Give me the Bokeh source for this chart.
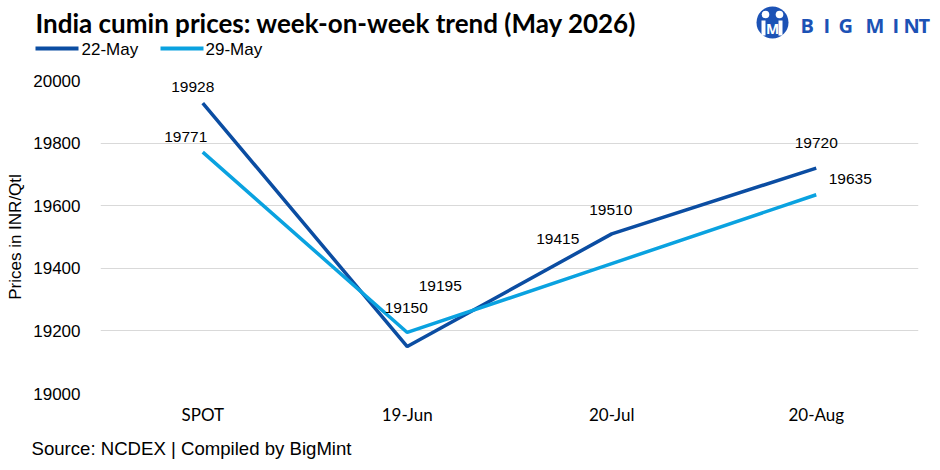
from bokeh.plotting import figure
from bokeh.layouts import column
from bokeh.models import FactorRange, Range1d, ColumnDataSource, FixedTicker
from bokeh.core.properties import value
from bokeh.embed import file_html
from bokeh.resources import INLINE

categories = ["SPOT", "19-Jun", "20-Jul", "20-Aug"]
may22 = [19928, 19150, 19510, 19720]
may29 = [19771, 19195, 19415, 19635]
y_ticks = [19000, 19200, 19400, 19600, 19800, 20000]
series_names = ["22-May", "29-May"]
title_text = "India cumin prices: week-on-week trend (May 2026)"
source_text = "Source: NCDEX | Compiled by BigMint"
y_title = "Prices in INR/Qtl"

# label offsets (px): dx, dy (up)
off22 = [(-10, 16), (-1, 39), (-1, 24), (0, 25)]
off29 = [(-17, 15), (33, 46), (-54, 25), (34, 16)]

DARK = "#0B4DA2"
LIGHT = "#0AA2E0"
LOGO = "#1C52B5"
W = 940
HEAD_H, FOOT_H = 62, 38


def blank(h):
    f = figure(frame_width=W, frame_height=h, x_range=Range1d(0, W), y_range=Range1d(h, 0),
               output_backend="svg", toolbar_location=None, x_axis_location=None,
               y_axis_location=None, min_border=0, frame_align=False)
    f.outline_line_color = None
    f.grid.visible = False
    return f


# ---------- header: title, legend, logo ----------
h = blank(HEAD_H)
h.text(x=[35], y=[22], text=[title_text], text_font=value("Lato"), text_font_style="bold",
       text_font_size="26px", text_color="#000000", text_baseline="middle")
for (x0, x1, tx), name, col in zip(((35, 78, 81), (160, 203, 205)), series_names, (DARK, LIGHT)):
    h.segment(x0=[x0], y0=[48], x1=[x1], y1=[48], line_color=col, line_width=4)
    h.text(x=[tx], y=[49], text=[name], text_font=value("Liberation Sans"),
           text_font_size="17px", text_color="#000000", text_baseline="middle")
# logo
h.circle(x=[772], y=[22], radius=16, fill_color=LOGO, line_color=None)
h.circle(x=[765, 779], y=[14, 14], radius=3.8, fill_color="white", line_color=None)
h.quad(left=[761, 778], right=[765, 782], top=[20, 20], bottom=[35, 35],
       fill_color="white", line_color=None)
h.text(x=[772], y=[28], text=["M"], text_font=value("Open Sans"), text_font_style="bold",
       text_font_size="14px", text_color="white", text_align="center",
       text_baseline="middle")
h.text(x=[800, 823, 838, 865, 892, 903, 918], y=[25] * 7, text=list("BIGMINT"),
       text_font=value("Open Sans"), text_font_style="bold", text_font_size="20px",
       text_color=LOGO, text_baseline="middle")

# ---------- main chart ----------
p = figure(frame_width=818, frame_height=313, x_range=FactorRange(*categories, range_padding=0),
           y_range=Range1d(19000, 20000), output_backend="svg", toolbar_location=None,
           min_border_left=100, min_border_right=22, min_border_top=18, min_border_bottom=39,
           frame_align=False)
p.outline_line_color = None
p.xgrid.grid_line_color = None
p.ygrid.grid_line_color = "#D9D9D9"
p.ygrid.grid_line_width = 1
p.yaxis.ticker = FixedTicker(ticks=y_ticks)
for ax in (p.xaxis[0], p.yaxis[0]):
    ax.axis_line_color = None
    ax.major_tick_line_color = None
    ax.minor_tick_line_color = None
p.yaxis.major_label_text_font = "Liberation Sans"
p.yaxis.major_label_text_font_size = "17px"
p.yaxis.major_label_text_color = "#000000"
p.yaxis.major_label_standoff = 14
p.yaxis.axis_label = y_title
p.yaxis.axis_label_text_font = "Liberation Sans"
p.yaxis.axis_label_text_font_size = "17px"
p.yaxis.axis_label_text_font_style = "normal"
p.yaxis.axis_label_text_color = "#000000"
p.yaxis.axis_label_standoff = 5
p.xaxis.major_label_text_font = "Lato"
p.xaxis.major_label_text_font_size = "17px"
p.xaxis.major_label_text_color = "#000000"
p.xaxis.major_label_standoff = 4

p.line(categories, may22, line_color=DARK, line_width=3.5)
p.line(categories, may29, line_color=LIGHT, line_width=3.5)

for vals, offs in ((may22, off22), (may29, off29)):
    src = ColumnDataSource(dict(x=categories, y=vals, t=[str(v) for v in vals],
                                dx=[o[0] for o in offs], dy=[-o[1] for o in offs]))
    p.text(x="x", y="y", text="t", x_offset="dx", y_offset="dy", source=src,
           text_align="center", text_baseline="middle", text_font=value("Liberation Sans"),
           text_font_size="15.5px", text_color="#000000")

# ---------- footer ----------
f = blank(FOOT_H)
f.text(x=[31], y=[16], text=[source_text], text_font=value("Liberation Sans"),
       text_font_size="18.6px", text_color="#000000", text_baseline="middle")

layout = column(h, p, f, spacing=0)
open("out.html", "w").write(file_html(layout, INLINE))
